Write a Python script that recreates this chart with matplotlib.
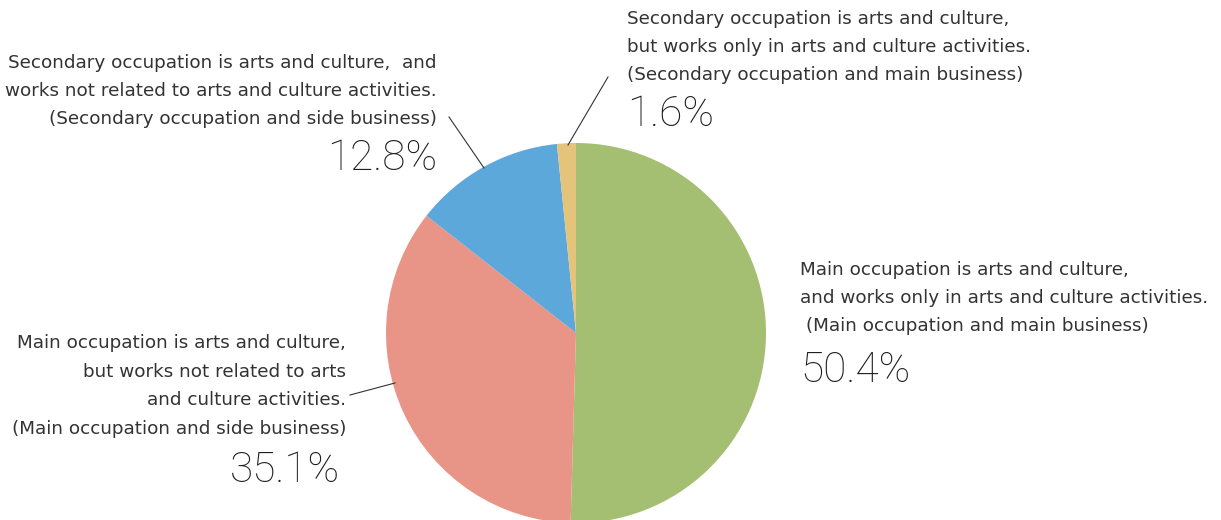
import matplotlib
matplotlib.use("Agg")
import matplotlib.pyplot as plt

# Data
categories = [
    "Main occupation is arts and culture,\nand works only in arts and culture activities.\n (Main occupation and main business)",
    "Main occupation is arts and culture,\nbut works not related to arts\nand culture activities.\n(Main occupation and side business)",
    "Secondary occupation is arts and culture,  and\nworks not related to arts and culture activities.\n(Secondary occupation and side business)",
    "Secondary occupation is arts and culture,\nbut works only in arts and culture activities.\n(Secondary occupation and main business)",
]
values = [50.4, 35.1, 12.8, 1.6]
pct_labels = ["50.4%", "35.1%", "12.8%", "1.6%"]
colors = ["#A4BF72", "#E89487", "#5CA8DB", "#E4C37A"]

W, H = 1221, 520
fig = plt.figure(figsize=(W / 100, H / 100), dpi=100)
ax = fig.add_axes([0, 0, 1, 1])

def Y(py):
    return H - py

cx, cy, r = 576, Y(333), 190
ax.pie(values, colors=colors, startangle=90, counterclock=False,
       center=(cx, cy), radius=r, frame=True,
       wedgeprops=dict(linewidth=0))
ax.set_xlim(0, W)
ax.set_ylim(0, H)
ax.set_aspect("equal")
ax.axis("off")

txt = dict(fontsize=13.2, color="#333333", family="DejaVu Sans", linespacing=1.74)
pct = dict(fontsize=30.5, color="#1e1e1e", family="Roboto", fontweight="light")

# Green (right)
ax.text(800, Y(298), categories[0], ha="left", va="center", **txt)
ax.text(800, Y(370), pct_labels[0], ha="left", va="center", **pct)

# Red (bottom-left)
ax.text(346, Y(386), categories[1], ha="right", va="center", **txt)
ax.text(340, Y(470), pct_labels[1], ha="right", va="center", **pct)
ax.plot([350, 395], [Y(395), Y(383)], color="#333333", lw=0.8)

# Blue (top-left)
ax.text(437, Y(91), categories[2], ha="right", va="center", **txt)
ax.text(437, Y(158), pct_labels[2], ha="right", va="center", **pct)
ax.plot([449, 484], [Y(117), Y(168)], color="#333333", lw=0.8)

# Yellow (top)
ax.text(627, Y(47), categories[3], ha="left", va="center", **txt)
ax.text(627, Y(115), pct_labels[3], ha="left", va="center", **pct)
ax.plot([608, 568], [Y(77), Y(145)], color="#333333", lw=0.8)

fig.savefig("out.png", dpi=100, facecolor="white")
